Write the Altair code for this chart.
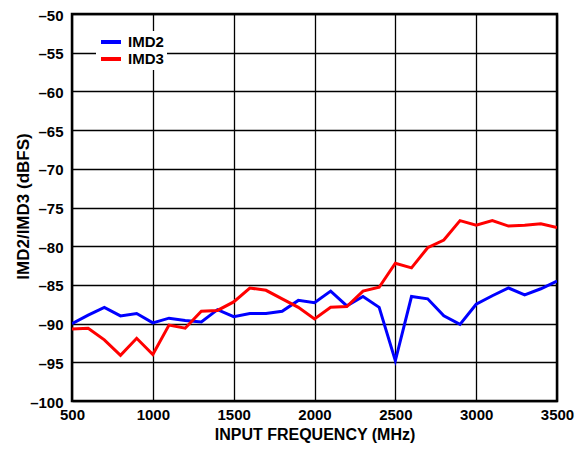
import altair as alt
import pandas as pd

freq = list(range(500, 3501, 100))
imd2 = [-90.0, -88.9, -87.9, -89.0, -88.7, -89.9, -89.3, -89.6, -89.8, -88.2,
        -89.1, -88.7, -88.7, -88.4, -87.0, -87.3, -85.8, -87.7, -86.5, -87.9,
        -94.8, -86.5, -86.8, -89.0, -90.1, -87.5, -86.4, -85.4, -86.3, -85.5, -84.5]
imd3 = [-90.7, -90.6, -92.1, -94.1, -91.9, -94.0, -90.2, -90.6, -88.4, -88.3,
        -87.2, -85.4, -85.7, -86.8, -87.9, -89.4, -87.9, -87.8, -85.8, -85.3,
        -82.2, -82.8, -80.2, -79.2, -76.7, -77.3, -76.7, -77.4, -77.3, -77.1, -77.6]
series = ["IMD2", "IMD3"]
colors = ["#0000FF", "#FF0000"]

df = pd.DataFrame({
    "freq": freq * 2,
    "val": imd2 + imd3,
    "series": [series[0]] * len(freq) + [series[1]] * len(freq),
})

font = "Liberation Sans"

chart = alt.Chart(df).mark_line(strokeWidth=3, clip=True).encode(
    x=alt.X("freq:Q",
            scale=alt.Scale(domain=[500, 3500], nice=False, zero=False),
            axis=alt.Axis(values=list(range(500, 3501, 500)), title="INPUT FREQUENCY (MHz)",
                          format="d", labelFlush=False, ticks=False, labelPadding=6,
                          titleFontSize=16, titleY=33, titleBaseline="middle")),
    y=alt.Y("val:Q",
            scale=alt.Scale(domain=[-100, -50], nice=False, zero=False),
            axis=alt.Axis(values=list(range(-100, -49, 5)), title="IMD2/IMD3 (dBFS)",
                          labelExpr="'\u2013' + abs(datum.value)", ticks=False,
                          labelPadding=9, labelOffset=1, titleFontSize=17, titleX=-49, titleY=192,
                          titleAngle=270, titleAlign="center", titleBaseline="middle")),
    color=alt.Color("series:N",
                    scale=alt.Scale(domain=series, range=colors),
                    legend=alt.Legend(title=None, orient="none", legendX=24, legendY=17,
                                      symbolType="stroke", symbolSize=400,
                                      symbolStrokeWidth=4, fillColor="white",
                                      padding=3, labelFontSize=15, labelFont=font,
                                      labelFontWeight="bold", labelColor="black",
                                      rowPadding=1, clipHeight=16, labelOffset=5)),
).properties(
    width=485, height=387,
    autosize=alt.AutoSizeParams(type="none"),
    padding={"left": 64, "top": 6, "right": 18, "bottom": 42},
).configure_view(
    stroke="black", strokeWidth=2.5
).configure_axis(
    domain=False, grid=True, gridColor="black", gridWidth=1.3, gridOpacity=1,
    labelFont=font, labelFontSize=15, labelFontWeight="bold", labelColor="black",
    titleFont=font, titleFontWeight="bold", titleColor="black",
)

chart.save("out.html", embed_options={"renderer": "svg", "actions": False})
